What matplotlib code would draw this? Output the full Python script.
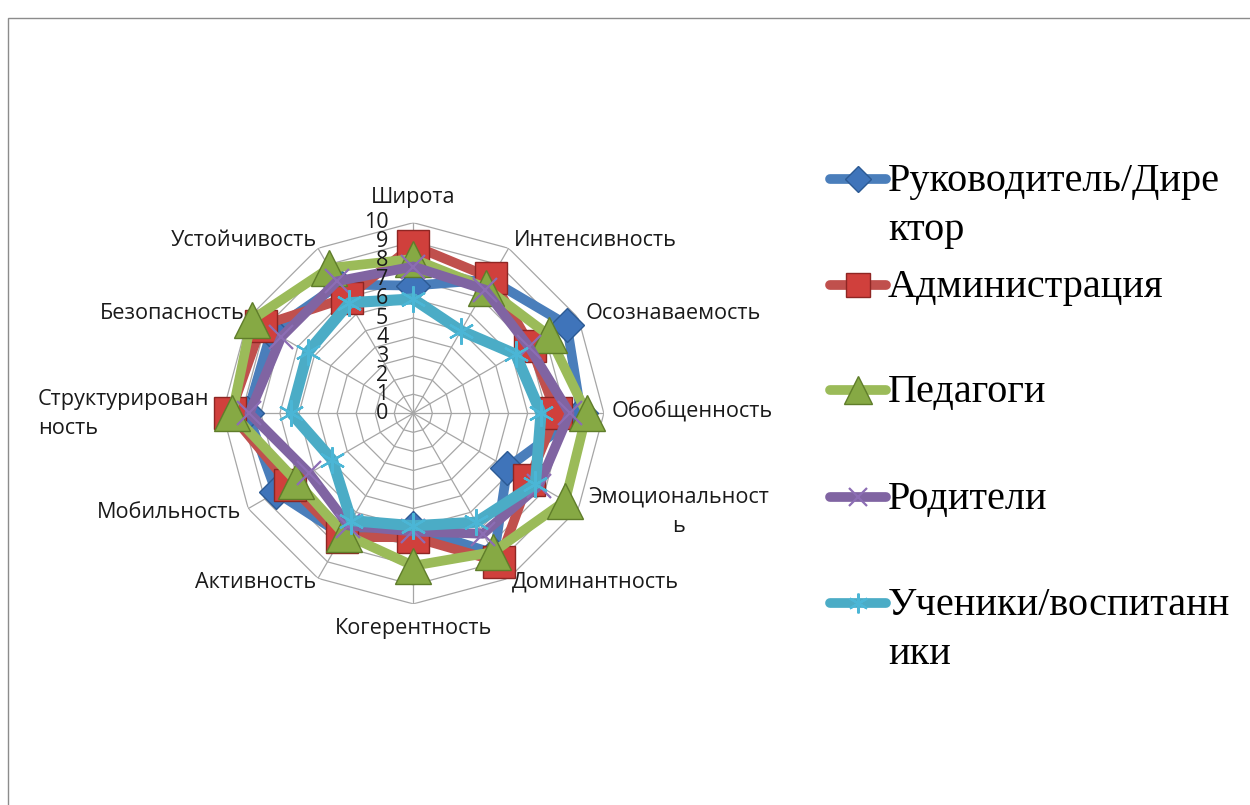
import numpy as np
import matplotlib
matplotlib.use('Agg')
import matplotlib.pyplot as plt
from matplotlib.lines import Line2D
from matplotlib.patches import Rectangle

categories = ['Широта', 'Интенсивность', 'Осознаваемость', 'Обобщенность',
              'Эмоциональность', 'Доминантность', 'Когерентность', 'Активность',
              'Мобильность', 'Структурированность', 'Безопасность', 'Устойчивость']

director = [6.7, 8.1, 9.3, 8.8, 5.7, 8.5, 6.0, 7.4, 8.3, 8.7, 8.6, 7.8]
administration = [8.8, 8.2, 7.1, 7.5, 7.0, 9.0, 6.5, 7.5, 7.5, 9.6, 9.2, 7.0]
teachers = [8.1, 7.6, 8.2, 9.1, 9.2, 8.4, 8.0, 7.3, 7.1, 9.5, 9.8, 8.8]
parents = [7.7, 7.5, 7.0, 8.2, 7.6, 7.3, 6.2, 6.8, 6.3, 8.6, 8.0, 8.0]
students = [6.0, 5.0, 6.2, 6.7, 7.4, 6.6, 5.9, 6.5, 4.9, 6.4, 6.4, 6.7]

series_names = ['Руководитель/Директор', 'Администрация', 'Педагоги', 'Родители',
                'Ученики/воспитанники']
legend_labels = ['Руководитель/Дире\nктор', 'Администрация', 'Педагоги', 'Родители',
                 'Ученики/воспитанн\nики']
radial_ticks = list(range(0, 11))

W, H = 1250, 805
fig = plt.figure(figsize=(W / 100, H / 100), dpi=100)

cx, cy, R = 413.3, 413.3, 190.6
ax = fig.add_axes([(cx - R) / W, (H - cy - R) / H, 2 * R / W, 2 * R / H],
                  projection='polar')
ax.set_theta_offset(np.pi / 2)
ax.set_theta_direction(-1)
ax.set_ylim(0, 10)
ax.grid(False)
ax.spines['polar'].set_visible(False)
ax.set_xticks([])
ax.set_yticks([])
ax.patch.set_alpha(0)

N = len(categories)
angles = np.linspace(0, 2 * np.pi, N, endpoint=False)
closed = np.append(angles, angles[0])

grid_col = '#A6A6A6'
for r in radial_ticks[1:]:
    ax.plot(closed, [r] * (N + 1), color=grid_col, lw=0.9, zorder=1)
for a in angles:
    ax.plot([a, a], [0, 10], color=grid_col, lw=0.9, zorder=1)

styles = [
    dict(color='#4A7EBB', marker='D', ms=17, mfc='#3F74BA', mec='#2C5A94', mew=1.0, lw=7),
    dict(color='#C0504D', marker='s', ms=23, mfc='#D0403C', mec='#8E2623', mew=1.0, lw=7),
    dict(color='#9BBB59', marker='^', ms=26, mfc='#86A944', mec='#5F7D2A', mew=1.0, lw=7),
    dict(color='#8064A2', marker='x', ms=17, mfc='#8064A2', mec='#8C6DB4', mew=1.6, lw=7),
    dict(color='#4BACC6', marker=(6, 2, 0), ms=19, mfc='#4BACC6', mec='#4BB6D6', mew=1.6, lw=8),
]
data = [director, administration, teachers, parents, students]

for i, (vals, st) in enumerate(zip(data, styles)):
    v = np.append(vals, vals[0])
    ax.plot(closed, v, color=st['color'], lw=st['lw'], solid_joinstyle='round',
            solid_capstyle='round', zorder=3 + 2 * i, clip_on=False)
    ax.plot(angles, vals, linestyle='none', marker=st['marker'], ms=st['ms'],
            mfc=st['mfc'], mec=st['mec'], mew=st['mew'], zorder=4 + 2 * i, clip_on=False)

for r in radial_ticks:
    ax.annotate(str(r), xy=(0, r), xytext=(-25, 0), textcoords='offset pixels',
                ha='right', va='center', fontsize=15.5, family='Open Sans', color='#1a1a1a',
                zorder=30, annotation_clip=False)

# category labels (pixel layout positions)
lab_font = dict(fontsize=15.6, family='Open Sans', color='#1a1a1a')
label_pos = [
    ('Широта', 413, 197, 'center'),
    ('Интенсивность', 514, 241, 'left'),
    ('Осознаваемость', 586, 313, 'left'),
    ('Обобщенность', 612, 412, 'left'),
    ('Эмоциональност\nь', 679, 512, 'center'),
    ('Доминантность', 512, 582, 'left'),
    ('Когерентность', 413, 628, 'center'),
    ('Активность', 316, 582, 'right'),
    ('Мобильность', 241, 512, 'right'),
    ('Структурирован\nность', 38, 414, 'left'),
    ('Безопасность', 245, 313, 'right'),
    ('Устойчивость', 317, 241, 'right'),
]
for txt, x, y, ha in label_pos:
    fig.text(x / W, 1 - y / H, txt, ha=ha, va='center',
             multialignment='left' if ha == 'left' else 'center',
             linespacing=1.5, **lab_font)

# legend (manual layout)
leg_y = [179, 285, 390, 497, 603]
for lab, y, st in zip(legend_labels, leg_y, styles):
    yf = 1 - y / H
    fig.add_artist(Line2D([830 / W, 886 / W], [yf, yf], color=st['color'], lw=7,
                          solid_capstyle='round', transform=fig.transFigure))
    fig.add_artist(Line2D([858 / W], [yf], linestyle='none', marker=st['marker'],
                          ms=st['ms'] * 0.75, mfc=st['mfc'], mec=st['mec'], mew=st['mew'],
                          transform=fig.transFigure))
    fig.text(888 / W, yf + 16 / H, lab, ha='left', va='top', fontsize=29,
             family='Liberation Serif', color='black', linespacing=1.42,
             transform=fig.transFigure)

# chart area border
fig.add_artist(Rectangle((8 / W, -0.1), 1.2, 1.1 - 18 / H, fill=False,
                         edgecolor='#8C8C8C', lw=1.0, transform=fig.transFigure))

fig.savefig('out.png', dpi=100)
